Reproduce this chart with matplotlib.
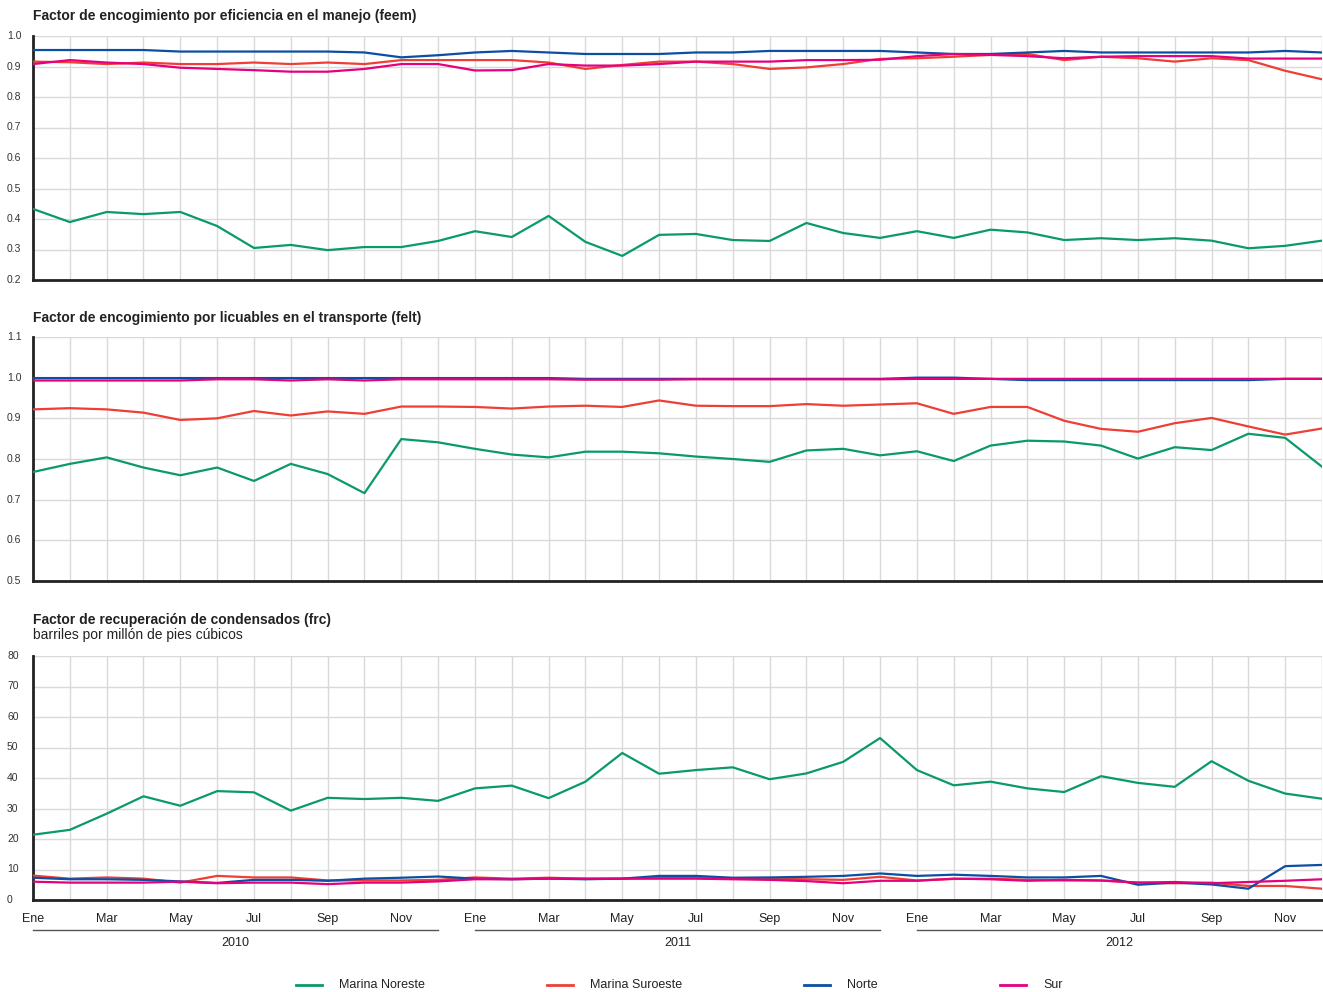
import matplotlib
matplotlib.use("Agg")
import matplotlib.pyplot as plt
from matplotlib.lines import Line2D
import matplotlib.transforms as mtransforms
import numpy as np

plt.rcParams['font.family'] = ['Liberation Sans', 'DejaVu Sans']

months = ["Ene", "Feb", "Mar", "Abr", "May", "Jun", "Jul", "Ago", "Sep", "Oct", "Nov", "Dic"]
years = ["2010", "2011", "2012"]
series_names = ["Marina Noreste", "Marina Suroeste", "Norte", "Sur"]
colors = ["#0a9a6a", "#ef3e36", "#0b4ea2", "#e5007d"]

# Panel 1: feem
feem_noreste = [0.433, 0.39, 0.423, 0.416, 0.423, 0.377, 0.305, 0.315, 0.298, 0.308, 0.308, 0.328,
                0.36, 0.341, 0.41, 0.325, 0.279, 0.348, 0.351, 0.331, 0.328, 0.387, 0.354, 0.338,
                0.36, 0.338, 0.365, 0.356, 0.331, 0.337, 0.331, 0.337, 0.329, 0.304, 0.312, 0.329]
feem_suroeste = [0.916, 0.914, 0.908, 0.913, 0.908, 0.908, 0.913, 0.908, 0.913, 0.908, 0.921, 0.921,
                 0.921, 0.921, 0.913, 0.892, 0.905, 0.916, 0.916, 0.908, 0.892, 0.897, 0.908, 0.925,
                 0.927, 0.932, 0.938, 0.941, 0.921, 0.932, 0.927, 0.916, 0.927, 0.921, 0.886, 0.858]
feem_norte = [0.954, 0.954, 0.954, 0.954, 0.949, 0.949, 0.949, 0.949, 0.949, 0.946, 0.930, 0.937,
              0.946, 0.951, 0.946, 0.941, 0.941, 0.941, 0.946, 0.946, 0.951, 0.951, 0.951, 0.951,
              0.946, 0.941, 0.941, 0.946, 0.951, 0.946, 0.946, 0.946, 0.946, 0.946, 0.951, 0.946]
feem_sur = [0.908, 0.921, 0.913, 0.908, 0.896, 0.892, 0.888, 0.883, 0.883, 0.892, 0.908, 0.908,
            0.887, 0.888, 0.908, 0.903, 0.903, 0.908, 0.916, 0.916, 0.916, 0.921, 0.921, 0.922,
            0.934, 0.941, 0.938, 0.934, 0.927, 0.932, 0.934, 0.934, 0.934, 0.926, 0.926, 0.926]

# Panel 2: felt
felt_noreste = [0.768, 0.788, 0.804, 0.779, 0.760, 0.779, 0.746, 0.788, 0.763, 0.716, 0.849, 0.841,
                0.825, 0.811, 0.804, 0.818, 0.818, 0.814, 0.806, 0.800, 0.793, 0.821, 0.825, 0.809,
                0.819, 0.795, 0.833, 0.845, 0.843, 0.833, 0.801, 0.829, 0.822, 0.862, 0.852, 0.781]
felt_suroeste = [0.922, 0.925, 0.922, 0.914, 0.896, 0.900, 0.918, 0.907, 0.917, 0.911, 0.929, 0.929,
                 0.928, 0.924, 0.929, 0.931, 0.928, 0.944, 0.931, 0.930, 0.930, 0.935, 0.931, 0.934,
                 0.937, 0.911, 0.928, 0.928, 0.894, 0.874, 0.867, 0.888, 0.901, 0.880, 0.860, 0.875]
felt_norte = [0.999, 0.999, 0.999, 0.999, 0.999, 0.999, 0.999, 0.999, 0.999, 0.999, 0.999, 0.999,
              0.999, 0.999, 0.999, 0.997, 0.997, 0.997, 0.997, 0.997, 0.997, 0.997, 0.997, 0.997,
              1.000, 1.000, 0.997, 0.994, 0.994, 0.994, 0.994, 0.994, 0.994, 0.994, 0.997, 0.997]
felt_sur = [0.993, 0.993, 0.993, 0.993, 0.993, 0.996, 0.996, 0.993, 0.996, 0.993, 0.996, 0.996,
            0.996, 0.996, 0.996, 0.995, 0.995, 0.995, 0.996, 0.996, 0.996, 0.996, 0.996, 0.996,
            0.997, 0.997, 0.997, 0.997, 0.997, 0.997, 0.997, 0.997, 0.997, 0.997, 0.997, 0.997]

# Panel 3: frc
frc_noreste = [21.4, 23.0, 28.3, 34.0, 30.9, 35.7, 35.3, 29.3, 33.5, 33.1, 33.5, 32.5,
               36.6, 37.5, 33.4, 38.8, 48.2, 41.4, 42.6, 43.5, 39.6, 41.5, 45.3, 53.1,
               42.6, 37.6, 38.8, 36.6, 35.4, 40.6, 38.4, 37.1, 45.5, 39.1, 34.9, 33.2]
frc_suroeste = [8.0, 7.0, 7.4, 7.0, 5.7, 7.9, 7.4, 7.4, 6.4, 6.4, 6.4, 6.6,
                7.4, 7.0, 7.3, 7.0, 7.0, 7.2, 7.2, 7.0, 7.0, 6.8, 6.6, 7.6,
                6.4, 6.9, 7.0, 6.6, 6.4, 6.4, 5.7, 5.5, 5.7, 4.6, 4.6, 3.7]
frc_norte = [7.3, 6.8, 6.8, 6.6, 6.1, 5.6, 6.6, 6.6, 6.3, 7.0, 7.3, 7.7,
             7.0, 6.8, 7.0, 6.8, 7.0, 7.9, 7.9, 7.3, 7.4, 7.6, 7.9, 8.7,
             7.9, 8.3, 7.9, 7.4, 7.4, 7.9, 5.0, 5.7, 5.1, 3.7, 11.1, 11.5]
frc_sur = [6.0, 5.7, 5.7, 5.7, 6.0, 5.5, 5.7, 5.7, 5.2, 5.7, 5.7, 6.1,
           6.8, 6.8, 7.0, 7.0, 7.0, 7.0, 7.0, 6.8, 6.6, 6.2, 5.5, 6.3,
           6.3, 7.0, 6.8, 6.3, 6.6, 6.4, 5.7, 5.9, 5.5, 5.9, 6.3, 6.8]

panels = [
    dict(title="Factor de encogimiento por eficiencia en el manejo (feem)", subtitle=None,
         data=[feem_noreste, feem_suroeste, feem_norte, feem_sur],
         ylim=(0.2, 1.0), ticks=[0.2, 0.3, 0.4, 0.5, 0.6, 0.7, 0.8, 0.9, 1.0], fmt="{:.1f}"),
    dict(title="Factor de encogimiento por licuables en el transporte (felt)", subtitle=None,
         data=[felt_noreste, felt_suroeste, felt_norte, felt_sur],
         ylim=(0.5, 1.1), ticks=[0.5, 0.6, 0.7, 0.8, 0.9, 1.0, 1.1], fmt="{:.1f}"),
    dict(title="Factor de recuperación de condensados (frc)", subtitle="barriles por millón de pies cúbicos",
         data=[frc_noreste, frc_suroeste, frc_norte, frc_sur],
         ylim=(0, 80), ticks=[0, 10, 20, 30, 40, 50, 60, 70, 80], fmt="{:.0f}"),
]

W, H = 1323, 992
fig = plt.figure(figsize=(W / 100, H / 100), dpi=100)

def fx(px):
    return px / W

def fy(py):
    return 1 - py / H

axes_tops = [36, 337, 656]
axes_h = 244
x_left, x_right = 33, 1322
n = 36
x = np.arange(n)
title_y = [16, 318, 620]

for i, p in enumerate(panels):
    top = axes_tops[i]
    ax = fig.add_axes([fx(x_left), fy(top + axes_h), fx(x_right - x_left), axes_h / H])
    for vals, c in zip(p["data"], colors):
        ax.plot(x, vals, color=c, lw=1.6, solid_joinstyle='round', zorder=3)
    ax.set_xlim(0, n - 1)
    ax.set_ylim(*p["ylim"])
    ax.set_yticks(p["ticks"])
    ax.set_yticklabels([])
    ax.set_xticks(x)
    ax.set_xticklabels([])
    ax.tick_params(length=0)
    ax.grid(True, color="#d9d9d9", lw=1.0, zorder=0)
    for s in ["top", "right"]:
        ax.spines[s].set_visible(False)
    ax.spines["left"].set_color("#222222")
    ax.spines["left"].set_linewidth(2)
    ax.spines["bottom"].set_color("#222222")
    ax.spines["bottom"].set_linewidth(2)
    ax.set_axisbelow(True)
    for t in p["ticks"]:
        ax.annotate(p["fmt"].format(t), xy=(0, t), xycoords=("axes fraction", "data"),
                    xytext=(-26, 0), textcoords="offset pixels",
                    fontsize=7.5, color="#333333", ha="left", va="center")
    fig.text(fx(33), fy(title_y[i]), p["title"], fontsize=10, fontweight="bold",
             color="#222222", ha="left", va="center")
    if p["subtitle"]:
        fig.text(fx(33), fy(635), p["subtitle"], fontsize=10, color="#222222",
                 ha="left", va="center")
    if i == 2:
        ax3 = ax

# month labels
for k in range(0, n, 2):
    ax3.annotate(months[k % 12], xy=(k, 0), xycoords=("data", "axes fraction"),
                 xytext=(0, -19), textcoords="offset pixels", ha="center", va="center",
                 fontsize=9, color="#222222")
# year lines and labels
offset = mtransforms.ScaledTranslation(0, -30 / 100, fig.dpi_scale_trans)
for yi, yr in enumerate(years):
    x0, x1 = yi * 12, yi * 12 + 11
    line = Line2D([x0, x1], [0, 0], color="#555555", lw=1.0, clip_on=False)
    line.set_transform(ax3.get_xaxis_transform() + offset)
    ax3.add_line(line)
    ax3.annotate(yr, xy=((x0 + x1) / 2, 0), xycoords=("data", "axes fraction"),
                 xytext=(0, -43), textcoords="offset pixels", ha="center", va="center",
                 fontsize=9, color="#222222")

# legend
leg_x = [296, 547, 804, 1000]
for lx, name, c in zip(leg_x, series_names, colors):
    fig.add_artist(Line2D([fx(lx), fx(lx + 26)], [fy(985), fy(985)], color=c, lw=2,
                          transform=fig.transFigure))
    fig.text(fx(lx + 43), fy(985), name, fontsize=9, color="#222222", ha="left", va="center")

fig.savefig("out.png", dpi=100)
